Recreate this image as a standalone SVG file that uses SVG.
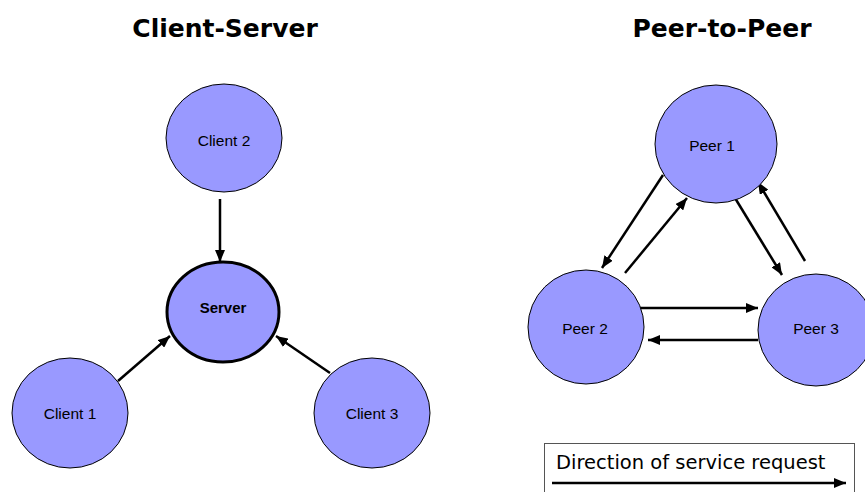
<svg xmlns="http://www.w3.org/2000/svg" width="865" height="492" viewBox="0 0 865 492">
  <style>
    .title { font-family: "DejaVu Sans", Verdana, sans-serif; font-weight: bold; font-size: 25px; fill: #000; text-anchor: middle; }
    .node { fill: #9999ff; stroke: #000; stroke-width: 1; }
    .server { fill: #9999ff; stroke: #000; stroke-width: 3; }
    .label { font-family: "Liberation Sans", Arial, sans-serif; font-size: 15.5px; fill: #000; text-anchor: middle; dominant-baseline: central; }
    .bold { font-weight: bold; font-size: 15px; }
    .edge { stroke: #000; stroke-width: 2.5; fill: none; marker-end: url(#head); }
    .legend-text { font-family: "DejaVu Sans", Verdana, sans-serif; font-size: 19.5px; fill: #000; }
  </style>
  <defs>
    <marker id="head" viewBox="0 0 12 10" refX="12" refY="5" markerWidth="12" markerHeight="10" markerUnits="userSpaceOnUse" orient="auto">
      <path d="M0,0 L12,5 L0,10 Z" fill="#000"/>
    </marker>
  </defs>
  <rect width="865" height="492" fill="#fff"/>

  <text class="title" x="225" y="37">Client-Server</text>
  <text class="title" x="722" y="37">Peer-to-Peer</text>

  <!-- connectors -->
  <g id="connectors">
    <line class="edge" x1="220" y1="199" x2="220" y2="262"/>
    <line class="edge" x1="118" y1="381" x2="170" y2="336"/>
    <line class="edge" x1="330" y1="373" x2="276" y2="336"/>

    <line class="edge" x1="663" y1="175" x2="602" y2="268"/>
    <line class="edge" x1="625" y1="273" x2="687" y2="198"/>
    <line class="edge" x1="735" y1="198" x2="782" y2="275"/>
    <line class="edge" x1="805" y1="261" x2="758" y2="182"/>
    <line class="edge" x1="640" y1="308" x2="758" y2="308"/>
    <line class="edge" x1="758" y1="340" x2="648" y2="340"/>
  </g>

  <!-- client-server nodes -->
  <g id="client2">
    <ellipse class="node" cx="224" cy="138" rx="58" ry="54"/>
    <text class="label" x="224" y="140">Client 2</text>
  </g>
  <g id="server">
    <ellipse class="server" cx="223" cy="312" rx="56" ry="50"/>
    <text class="label bold" x="223" y="307">Server</text>
  </g>
  <g id="client1">
    <ellipse class="node" cx="70" cy="413" rx="58" ry="55"/>
    <text class="label" x="70" y="413">Client 1</text>
  </g>
  <g id="client3">
    <ellipse class="node" cx="372" cy="413" rx="58" ry="55"/>
    <text class="label" x="372" y="413">Client 3</text>
  </g>

  <!-- peer-to-peer nodes -->
  <g id="peer1">
    <ellipse class="node" cx="716" cy="144" rx="61" ry="59"/>
    <text class="label" x="712" y="145">Peer 1</text>
  </g>
  <g id="peer2">
    <ellipse class="node" cx="586" cy="327" rx="58" ry="57"/>
    <text class="label" x="585" y="328">Peer 2</text>
  </g>
  <g id="peer3">
    <ellipse class="node" cx="816" cy="330" rx="58" ry="56"/>
    <text class="label" x="816" y="328">Peer 3</text>
  </g>

  <!-- legend -->
  <g id="legend">
    <rect x="544.5" y="443.5" width="310" height="60" fill="#fff" stroke="#555" stroke-width="1"/>
    <text class="legend-text" x="556" y="469">Direction of service request</text>
    <line class="edge" x1="552" y1="483" x2="846" y2="483"/>
  </g>
</svg>
